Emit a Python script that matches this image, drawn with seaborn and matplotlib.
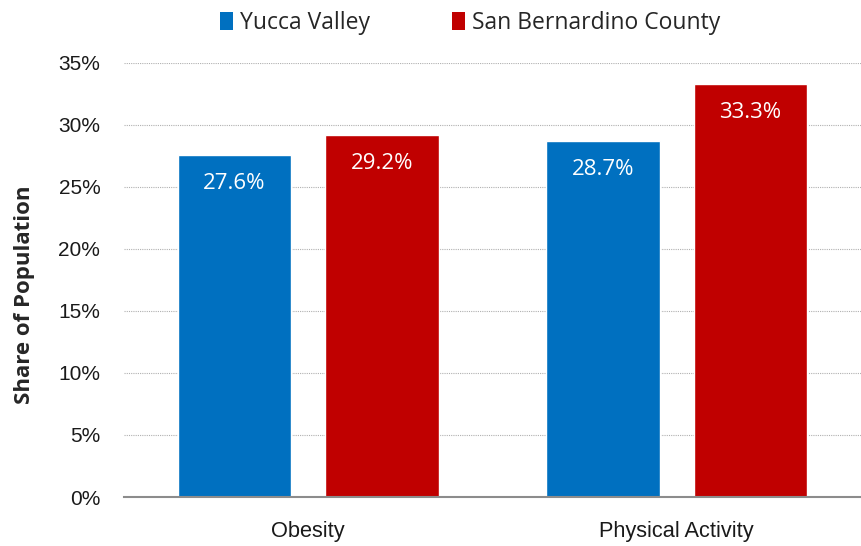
import matplotlib
matplotlib.use("Agg")
import matplotlib.pyplot as plt
import seaborn as sns
import pandas as pd
from matplotlib.patches import Patch

categories = ["Obesity", "Physical Activity"]
series = ["Yucca Valley", "San Bernardino County"]
yucca_valley = [27.6, 28.7]
san_bernardino = [29.2, 33.3]
colors = ["#0070C0", "#C00000"]
y_ticks = [0, 5, 10, 15, 20, 25, 30, 35]

df = pd.DataFrame({
    "category": categories * 2,
    "area": [series[0]] * 2 + [series[1]] * 2,
    "value": yucca_valley + san_bernardino,
})

sns.set_style("white")
plt.rcParams["font.family"] = ["Liberation Sans", "DejaVu Sans"]

fig = plt.figure(figsize=(8.61, 5.46), dpi=100)
ax = fig.add_axes([0.144, 0.0897, 0.856, 0.7953])

sns.barplot(data=df, x="category", y="value", hue="area", order=categories,
            hue_order=series, palette=colors, width=0.8, gap=0.23,
            saturation=1, legend=False, ax=ax, zorder=3)

ax.set_xlim(-0.5, 1.5)
ax.set_ylim(0, 35)
ax.set_yticks(y_ticks)
ax.set_yticklabels([f"{t}%" for t in y_ticks], fontsize=15, color="#1a1a1a")
ax.tick_params(axis="x", labelsize=15.7, colors="#1a1a1a", length=0, pad=17)
ax.tick_params(axis="y", length=0, pad=17)
ax.set_xlabel("")
ax.set_ylabel("Share of Population", fontsize=16, fontweight="bold",
              family=["Open Sans", "DejaVu Sans"])
ax.yaxis.set_label_coords(-0.121, 0.465)

ax.grid(axis="y", color="#b0b0b0", linestyle=(0, (1, 1)), linewidth=0.8, zorder=0)
ax.grid(axis="x", visible=False)
for side in ["left", "right", "top"]:
    ax.spines[side].set_visible(False)
ax.spines["bottom"].set_color("#8c8c8c")
ax.spines["bottom"].set_linewidth(1.5)
ax.spines["bottom"].set_zorder(4)

for container in ax.containers:
    for bar in container:
        h = bar.get_height()
        ax.annotate(f"{h:.1f}%", (bar.get_x() + bar.get_width() / 2, h),
                    xytext=(0, -29), textcoords="offset pixels",
                    ha="center", va="center", color="white", fontsize=16,
                    family=["Open Sans", "DejaVu Sans"], zorder=5)

handles = [Patch(facecolor=c, edgecolor="none") for c in colors]
fig.legend(handles, series, loc="center", bbox_to_anchor=(0.546, 0.958), ncol=2,
           frameon=False, prop={"family": ["Open Sans", "DejaVu Sans"], "size": 16.5},
           handlelength=0.55, handleheight=0.8, handletextpad=0.3, columnspacing=3.6)

fig.savefig("out.png", dpi=100)
